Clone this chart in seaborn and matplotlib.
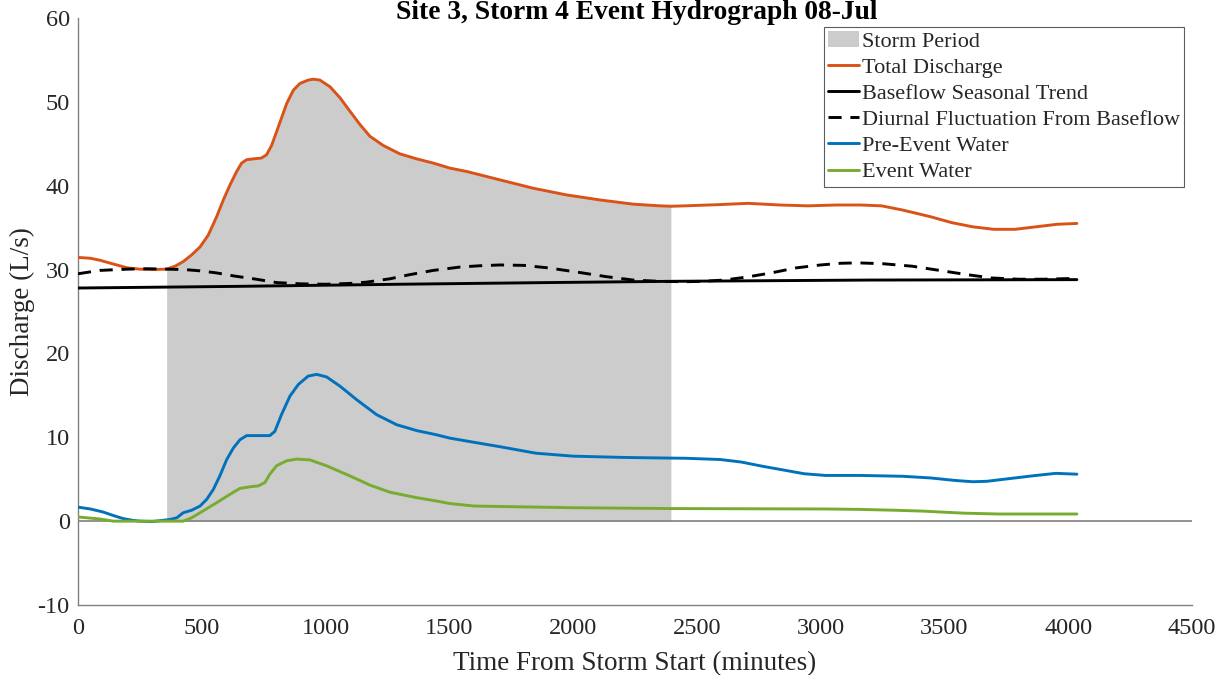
import numpy as np
import pandas as pd
import matplotlib
matplotlib.use("Agg")
import matplotlib.pyplot as plt
import seaborn as sns
from matplotlib.patches import Patch
from matplotlib.lines import Line2D

# ---------------- data ----------------
title = "Site 3, Storm 4 Event Hydrograph 08-Jul"
storm_start, storm_end = 358, 2395

t_total = [0, 50, 90, 150, 200, 250, 300, 358, 392, 425, 459, 493, 526, 560, 587,
           614, 641, 661, 681, 708, 741, 762, 782, 809, 843, 870, 897, 930, 950,
           977, 1018, 1058, 1098, 1139, 1179, 1233, 1300, 1368, 1435, 1502, 1570,
           1704, 1839, 1974, 2109, 2243, 2351, 2395, 2452, 2594, 2706, 2835, 2948,
           3062, 3160, 3246, 3331, 3444, 3529, 3614, 3699, 3785, 3870, 3955, 4035]
q_total = [31.45, 31.35, 31.1, 30.6, 30.2, 30.05, 30.0, 30.05, 30.4, 30.95, 31.75,
           32.7, 34.1, 36.3, 38.3, 40.1, 41.7, 42.7, 43.1, 43.2, 43.3, 43.7, 44.8,
           47.0, 49.8, 51.4, 52.2, 52.6, 52.7, 52.6, 51.8, 50.5, 48.9, 47.3, 45.9,
           44.8, 43.8, 43.2, 42.7, 42.1, 41.7, 40.7, 39.7, 38.9, 38.3, 37.8, 37.6,
           37.55, 37.6, 37.75, 37.9, 37.7, 37.6, 37.7, 37.7, 37.6, 37.1, 36.3, 35.6,
           35.1, 34.8, 34.8, 35.1, 35.4, 35.5]

t_base = [0, 650, 1300, 1900, 2400, 3200, 4035]
q_base = [27.8, 28.0, 28.25, 28.45, 28.6, 28.75, 28.8]

t_diurnal = [0, 89, 200, 280, 360, 430, 493, 560, 627, 720, 802, 900, 1000, 1100,
             1165, 1260, 1341, 1435, 1543, 1620, 1704, 1800, 1900, 2027, 2135, 2243,
             2350, 2450, 2524, 2610, 2700, 2800, 2900, 3000, 3080, 3150, 3250, 3370,
             3480, 3590, 3690, 3800, 3900, 4035]
q_diurnal = [29.5, 29.9, 30.05, 30.1, 30.05, 30.0, 29.85, 29.6, 29.25, 28.85, 28.45,
             28.3, 28.25, 28.35, 28.5, 28.9, 29.4, 29.9, 30.3, 30.45, 30.55, 30.5,
             30.2, 29.65, 29.15, 28.75, 28.6, 28.55, 28.6, 28.75, 29.1, 29.6, 30.2,
             30.55, 30.75, 30.8, 30.7, 30.4, 29.9, 29.4, 29.0, 28.85, 28.85, 28.95]

t_pre = [0, 50, 100, 150, 183, 220, 250, 300, 372, 399, 425, 459, 493, 520, 547,
         573, 600, 627, 654, 681, 735, 775, 795, 822, 856, 890, 930, 964, 1004,
         1058, 1125, 1206, 1287, 1368, 1448, 1502, 1600, 1700, 1850, 2000, 2200,
         2310, 2452, 2594, 2679, 2764, 2849, 2934, 3019, 3161, 3331, 3444, 3544,
         3614, 3671, 3756, 3870, 3950, 4035]
q_pre = [1.67, 1.45, 1.1, 0.6, 0.3, 0.1, 0.0, -0.05, 0.2, 0.4, 1.0, 1.3, 1.8, 2.6,
         3.8, 5.4, 7.3, 8.7, 9.7, 10.2, 10.2, 10.2, 10.7, 12.7, 14.9, 16.3, 17.3,
         17.5, 17.2, 16.1, 14.5, 12.7, 11.5, 10.8, 10.3, 9.9, 9.4, 8.9, 8.1, 7.75,
         7.6, 7.55, 7.5, 7.35, 7.05, 6.55, 6.1, 5.65, 5.45, 5.45, 5.35, 5.15, 4.85,
         4.7, 4.75, 5.05, 5.45, 5.7, 5.6]

t_event = [0, 89, 143, 250, 425, 459, 493, 560, 614, 654, 695, 728, 755, 775, 802,
           843, 883, 937, 1004, 1098, 1179, 1260, 1368, 1448, 1502, 1600, 1800, 2000,
           2200, 2400, 3019, 3161, 3300, 3410, 3510, 3580, 3720, 4035]
q_event = [0.5, 0.25, 0.0, 0.0, 0.0, 0.4, 1.0, 2.2, 3.2, 3.9, 4.1, 4.2, 4.6, 5.6, 6.6,
           7.2, 7.4, 7.3, 6.6, 5.4, 4.3, 3.45, 2.8, 2.4, 2.1, 1.8, 1.7, 1.6, 1.55,
           1.5, 1.45, 1.4, 1.3, 1.2, 1.05, 0.95, 0.85, 0.85]

x_ticks = [0, 500, 1000, 1500, 2000, 2500, 3000, 3500, 4000, 4500]
y_ticks = [-10, 0, 10, 20, 30, 40, 50, 60]

# ---------------- style ----------------
c_total = "#D95319"
c_base = "#000000"
c_pre = "#0072BD"
c_event = "#77AC30"
c_storm = "#CCCCCC"
axis_gray = "#808080"

sns.set_style("white")
plt.rcParams["font.family"] = ["Liberation Serif", "DejaVu Serif"]

fig = plt.figure(figsize=(12.21, 6.75), dpi=100)
ax = fig.add_axes([78 / 1221, 1 - 605 / 675, (1192 - 78) / 1221, (605 - 18) / 675])

# storm period: area under total discharge during the storm
tt = np.array(t_total, dtype=float)
qq = np.array(q_total, dtype=float)
m = (tt >= storm_start) & (tt <= storm_end)
ax.fill_between(tt[m], 0, qq[m], color=c_storm, linewidth=0, zorder=1)

ax.axhline(0, color=axis_gray, lw=1.2, zorder=2)

lw = 2.1
dash = (0, (4.5, 3))
sns.lineplot(x=t_total, y=q_total, color=c_total, lw=lw, ax=ax, sort=False,
             estimator=None, zorder=4)
sns.lineplot(x=t_base, y=q_base, color=c_base, lw=lw, ax=ax, sort=False,
             estimator=None, zorder=4)
sns.lineplot(x=t_diurnal, y=q_diurnal, color=c_base, lw=lw, ax=ax, sort=False,
             estimator=None, zorder=4, linestyle=dash)
sns.lineplot(x=t_pre, y=q_pre, color=c_pre, lw=lw, ax=ax, sort=False,
             estimator=None, zorder=4)
sns.lineplot(x=t_event, y=q_event, color=c_event, lw=lw, ax=ax, sort=False,
             estimator=None, zorder=4)

ax.set_xlim(0, 4500)
ax.set_ylim(-10, 60)
ax.set_xticks(x_ticks)
ax.set_yticks(y_ticks)
ax.set_xticklabels([str(v) for v in x_ticks])
ax.set_yticklabels([str(v) for v in y_ticks])

for s in ["top", "right"]:
    ax.spines[s].set_visible(False)
for s in ["left", "bottom"]:
    ax.spines[s].set_color(axis_gray)
    ax.spines[s].set_linewidth(1.0)
ax.tick_params(axis="both", direction="in", length=7, width=0.8, color="#333333",
               labelsize=17.5, labelcolor="#262626")
ax.tick_params(axis="x", pad=9)
ax.tick_params(axis="y", pad=6)

ax.set_xlabel("Time From Storm Start (minutes)", fontsize=19.5, color="#262626",
              labelpad=9)
ax.set_ylabel("Discharge (L/s)", fontsize=19.5, color="#262626", labelpad=2)

fig.text(637 / 1221, 1 - 19 / 675, title, ha="center", va="baseline",
         fontsize=19.8, fontweight="bold", color="#000000")

handles = [
    Patch(facecolor=c_storm, edgecolor="none", label="Storm Period"),
    Line2D([], [], color=c_total, lw=lw, label="Total Discharge"),
    Line2D([], [], color=c_base, lw=lw, label="Baseflow Seasonal Trend"),
    Line2D([], [], color=c_base, lw=lw, linestyle=dash,
           label="Diurnal Fluctuation From Baseflow"),
    Line2D([], [], color=c_pre, lw=lw, label="Pre-Event Water"),
    Line2D([], [], color=c_event, lw=lw, label="Event Water"),
]
leg = ax.legend(handles=handles, loc="upper right", bbox_to_anchor=(0.993, 0.985),
                borderaxespad=0, fontsize=16, frameon=True, fancybox=False,
                edgecolor="#333333", handlelength=1.4, handletextpad=0.1,
                labelspacing=0.25, borderpad=0.2)
leg.get_frame().set_linewidth(0.8)
leg.set_zorder(10)

fig.savefig("out.png", dpi=100, facecolor="white")
